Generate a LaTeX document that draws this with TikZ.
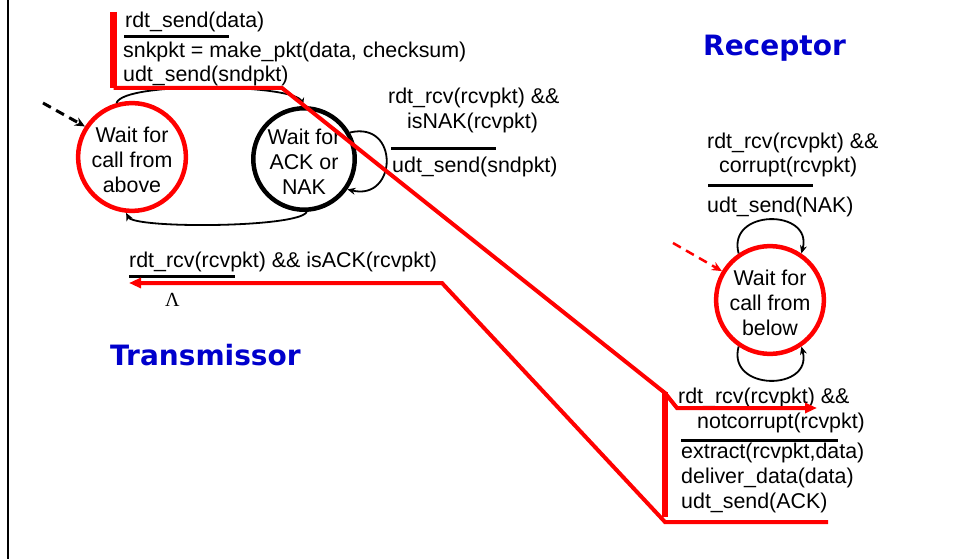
\documentclass[tikz,border=0pt]{standalone}
\usepackage{fontspec}
\setmainfont{Liberation Sans}
\newfontfamily\headfont{DejaVu Sans}
\newfontfamily\greekfont{Liberation Serif}
\usetikzlibrary{arrows.meta}
\definecolor{hl}{RGB}{255,0,0}
\definecolor{headblue}{RGB}{0,0,204}
\newcommand{\firstline}{\rule{0pt}{21pt}}
\begin{document}
\begin{tikzpicture}[x=1pt,y=-1pt,
  lbl/.style={anchor=base west,inner sep=0pt,font=\fontsize{21.4}{24}\selectfont},
  state/.style={circle,draw,line width=4.5pt,minimum size=101pt,align=center,inner sep=0pt,font=\fontsize{21.4}{25}\selectfont},
  trans/.style={draw=black,line width=1.8pt,-{Stealth[length=8pt,width=7pt]}},
  initarrow/.style={line width=3pt,dash pattern=on 9pt off 6pt,-{Stealth[length=10pt,width=9pt]}},
  guard/.style={draw=black,line width=3pt},
  hlpath/.style={draw=hl,line width=4pt},
  head/.style={anchor=base west,inner sep=0pt,text=headblue,font=\headfont\bfseries\fontsize{28}{30}\selectfont}]
\useasboundingbox (0,0) rectangle (954,559);

% left frame edge
\coordinate (fa) at (8,0);
\coordinate (fb) at (8,559);
\draw[line width=2.8pt] (fa) -- (fb);

% states
\node[state,draw=hl] (s1) at (132,157) {\firstline Wait for\\call from\\above};
\node[state,draw=black] (s2) at (304,159) {\firstline Wait for\\ACK or\\NAK};
\node[state,draw=hl] (s3) at (770,300) {\firstline Wait for\\call from\\below};

% initial transitions
\coordinate (init1) at (43,103);
\coordinate (init3) at (673,243);
\draw[initarrow,black] (init1) -- (s1.147);
\draw[initarrow,hl,line width=2.5pt] (init3) -- (s3.149);

% sender transitions
\draw[trans] (s1.106) .. controls +(7,-22) and +(-7,-22) .. (s2.91);
\draw[trans] (s2.273) .. controls +(-8,16) and +(8,16) .. (s1.264);
\draw[trans] (s2.30) .. controls +(50,-12) and +(50,12) .. (s2.-35);

% receiver self loops
\draw[trans] (s3.124) .. controls +(-12,-45) and +(12,-45) .. (s3.56);
\draw[trans] (s3.236) .. controls +(-12,45) and +(12,45) .. (s3.304);

% sender: send data
\node[lbl] (t1) at (125,28) {rdt\_send(data)};
\draw[guard] (124,37) -- (229,37);
\node[lbl] (t2) at (123,58) {snkpkt = make\_pkt(data, checksum)};
\node[lbl] (t3) at (123,82) {udt\_send(sndpkt)};

% sender: retransmit on NAK
\node[lbl] (n1) at (388,104) {rdt\_rcv(rcvpkt) \&\&};
\node[lbl] (n2) at (407,129) {isNAK(rcvpkt)};
\draw[guard] (391,149) -- (496,149);
\node[lbl] (n3) at (392,173) {udt\_send(sndpkt)};

% sender: ACK received
\node[lbl] (a1) at (129,267) {rdt\_rcv(rcvpkt) \&\& isACK(rcvpkt)};
\draw[guard] (129,276) -- (235,276);
\node[anchor=base west,inner sep=0pt,font=\greekfont\fontsize{20}{20}\selectfont] (lam) at (165,306) {Λ};

% receiver: corrupt packet
\node[lbl] (c1) at (707,149) {rdt\_rcv(rcvpkt) \&\&};
\node[lbl] (c2) at (719,173) {corrupt(rcvpkt)};
\draw[guard] (708,186) -- (813,186);
\node[lbl] (c3) at (707,212) {udt\_send(NAK)};

% receiver: good packet
\node[lbl] (d1) at (678,403) {rdt\_rcv(rcvpkt) \&\&};
\node[lbl] (d2) at (697,428) {notcorrupt(rcvpkt)};
\draw[guard] (681,440) -- (838,440);
\node[lbl] (d3) at (681,458) {extract(rcvpkt,data)};
\node[lbl] (d4) at (681,483) {deliver\_data(data)};
\node[lbl] (d5) at (681,508) {udt\_send(ACK)};

% titles
\node[head] (rx) at (703,56) {Receptor};
\node[head] (tx) at (110,365) {Transmissor};

% highlighted packet flow
\coordinate (p0) at (113.5,12);
\coordinate (p1) at (113.5,88);
\coordinate (p2) at (282,88);
\coordinate (p3) at (665,393);
\coordinate (p4) at (677,408);
\coordinate (p5) at (817,408);
\draw[hl,line width=7pt] (p0) -- (p1);
\draw[hlpath,-{Triangle[length=12pt,width=10pt]}] (p1) -- (p2) -- (p3) -- (p4) -- (p5);

\coordinate (q0) at (665,392);
\coordinate (q1) at (665,517);
\draw[hl,line width=6pt] (q0) -- (q1);

\coordinate (r0) at (828,522);
\coordinate (r1) at (665,522);
\coordinate (r2) at (442,283);
\coordinate (r3) at (129,283);
\draw[hlpath,-{Triangle[length=12pt,width=10pt]}] (r0) -- (r1) -- (r2) -- (r3);
\end{tikzpicture}
\end{document}
